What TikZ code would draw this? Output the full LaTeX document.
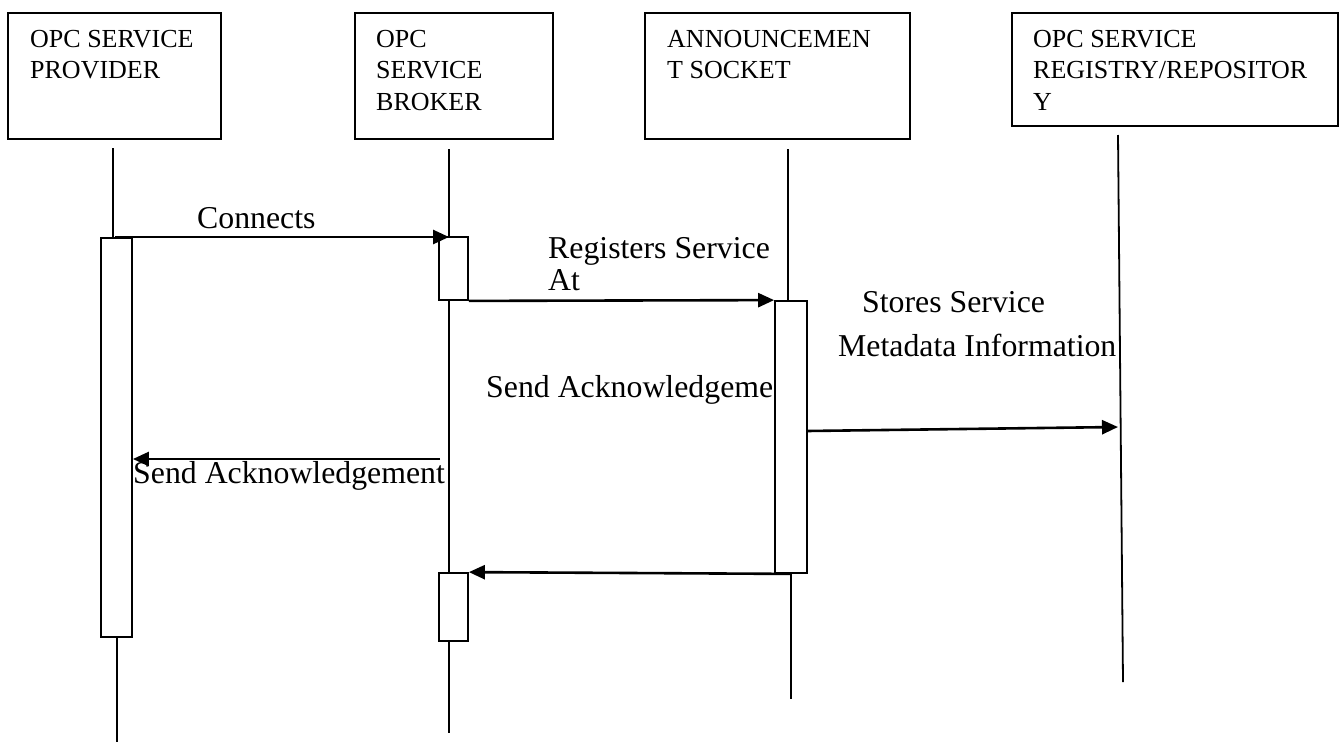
\documentclass[tikz,border=0pt]{standalone}
\usepackage{fontspec}
\setmainfont{Liberation Serif}
\usetikzlibrary{arrows.meta}
\begin{document}
\begin{tikzpicture}[x=1pt,y=-1pt,
  objbox/.style={draw,line width=1.8pt,inner sep=0pt},
  actbox/.style={draw,line width=1.8pt,fill=white,inner sep=0pt},
  lifeln/.style={line width=1.8pt},
  msg/.style={line width=2.6pt,-{Triangle[length=16pt,width=14pt]}},
  boxtxt/.style={anchor=base west,inner sep=0pt,align=left,font=\fontsize{26}{31.5}\selectfont},
  msgtxt/.style={anchor=base west,inner sep=0pt,align=left,font=\fontsize{31.8}{32}\selectfont}]
\useasboundingbox (0,0) rectangle (1341,742);
% object boxes
\node[objbox,minimum width=213pt,minimum height=126pt] (b1) at (114.5,76) {};
\node[objbox,minimum width=198pt,minimum height=126pt] (b2) at (454,76) {};
\node[objbox,minimum width=265pt,minimum height=126pt] (b3) at (777.5,76) {};
\node[objbox,minimum width=326pt,minimum height=113pt] (b4) at (1175,69.5) {};
% labels: base anchor = baseline of last line
\node[boxtxt] (t1) at (30,78.5) {OPC SERVICE\\PROVIDER};
\node[boxtxt] (t2) at (376,110) {OPC\\SERVICE\\BROKER};
\node[boxtxt] (t3) at (667,78.5) {ANNOUNCEMEN\\T SOCKET};
\node[boxtxt] (t4) at (1033,110) {OPC SERVICE\\REGISTRY/REPOSITOR\\Y};
% lifeline ends
\coordinate (l1t) at (113,148);
\coordinate (l1b) at (117,742);
\coordinate (l2t) at (449,149);
\coordinate (l2b) at (449,733);
\coordinate (l3t) at (788,149);
\coordinate (l3b) at (791,699);
\coordinate (l4t) at (1118,135);
\coordinate (l4b) at (1123,682);
% activation boxes
\node[actbox,minimum width=31pt,minimum height=399pt] (a1) at (116.5,437.5) {};
\node[actbox,minimum width=29pt,minimum height=63pt] (a2) at (453.5,268.5) {};
\node[actbox,minimum width=32pt,minimum height=272pt] (a3) at (791,437) {};
\node[actbox,minimum width=29pt,minimum height=68pt] (a4) at (453.5,607) {};
% lifelines
\draw[lifeln] (l1t) -- (l1t |- a1.north);
\draw[lifeln] (l1b |- a1.south) -- (l1b);
\draw[lifeln] (l2t) -- (l2t |- a2.north);
\draw[lifeln] (l2t |- a2.south) -- (l2t |- a4.north);
\draw[lifeln] (l2b |- a4.south) -- (l2b);
\draw[lifeln] (l3t) -- (l3t |- a3.north);
\draw[lifeln] (l3b |- a3.south) -- (l3b);
\draw[lifeln] (l4t) -- (l4b);
% messages
\coordinate (m1s) at (115,237);
\draw[msg] (m1s) -- (m1s -| l2t);
\draw[msg] (a2.south east) -- (a3.north west);
\coordinate (m3s) at (807,431);
\coordinate (m3e) at (1118,427);
\draw[msg] (m3s) -- (m3e);
\coordinate (m4s) at (440,459);
\draw[msg] (m4s) -- (m4s -| a1.east);
\draw[msg] (a3.south) -- (a4.north east);
% message labels
\node[msgtxt] (x1) at (197,228) {Connects};
\node[msgtxt] (x2) at (548,290) {Registers Service\\At};
\node[msgtxt] (x3) at (862,312) {Stores Service};
\node[msgtxt] (x4) at (838,356) {Metadata Information};
\node[msgtxt] (x5) at (486,397) {Send Acknowledgeme};
\node[msgtxt] (x6) at (133,483) {Send Acknowledgement};
\end{tikzpicture}
\end{document}
